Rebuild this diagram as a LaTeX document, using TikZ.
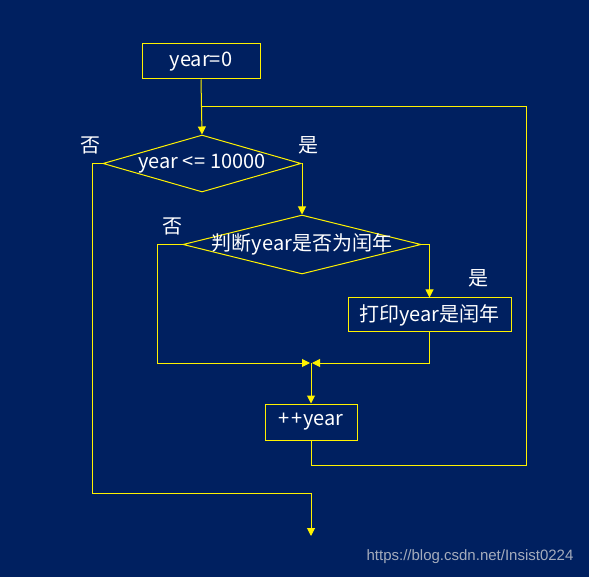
\documentclass[tikz,border=0pt]{standalone}
\usepackage{fontspec}
\setmainfont{Noto Sans CJK SC}
\newfontfamily\markfont{Liberation Sans}
\usetikzlibrary{shapes.geometric,arrows.meta}
\definecolor{bgblue}{RGB}{0,32,96}
\definecolor{markgray}{RGB}{165,172,188}

\begin{document}
\begin{tikzpicture}[x=1pt,y=-1pt,line width=1pt,
  every node/.style={text=white,font=\fontsize{20}{23}\selectfont},
  box/.style={draw=yellow,inner sep=0pt},
  cond/.style={draw=yellow,diamond,inner sep=-6pt},
  arr/.style={draw=yellow,-{Triangle[width=8pt,length=8pt]}},
  wire/.style={draw=yellow}]
  \fill[bgblue] (0,0) rectangle (589,577);
  \useasboundingbox (0,0) rectangle (589,577);
  % boxes and tests
  \node[box,minimum width=118pt,minimum height=35pt] (start) at (201,61.5) {year=0};
  \node[cond,aspect=3.47,minimum width=198pt,minimum height=57pt] (d1) at (202,163.5) {year <\kern1pt= 10000};
  \node[cond,aspect=4.07,minimum width=238pt,minimum height=59pt] (d2) at (302,244.5) {判断year是否为闰年};
  \node[box,minimum width=163pt,minimum height=34pt] (pr) at (429.5,315) {打印year是闰年};
  \node[box,minimum width=92pt,minimum height=36pt] (inc) at (311,422) {+\kern2pt+year};
  % branch labels
  \node (no1) at (90,145) {否};
  \node (yes1) at (308,145) {是};
  \node (no2) at (172,226) {否};
  \node (yes2) at (478,278) {是};
  \node[text=markgray,font=\markfont\fontsize{15}{17}\selectfont] (mark) at (470,557) {https://blog.csdn.net/Insist0224};
  % corners
  \coordinate (j1) at (202,107);
  \coordinate (loopc) at (526,465);
  \coordinate (m) at (311,363);
  \coordinate (ex) at (92,493);
  \coordinate (out) at (311,536);
  % connectors
  \draw[arr] (start.south) -- (d1.north);
  \draw[wire] (inc.south) |- (loopc) |- (j1);
  \draw[arr] (d1.east) -| (d2.north);
  \draw[arr] (d2.east) -| (pr.north);
  \draw[arr] (pr.south) |- ([xshift=1pt]m);
  \draw[arr] (d2.west) -- ++(-25,0) |- ([xshift=-1pt]m);
  \draw[arr] (m) -- (inc.north);
  \draw[arr] (d1.west) -| (ex) -| (out);
\end{tikzpicture}
\end{document}
